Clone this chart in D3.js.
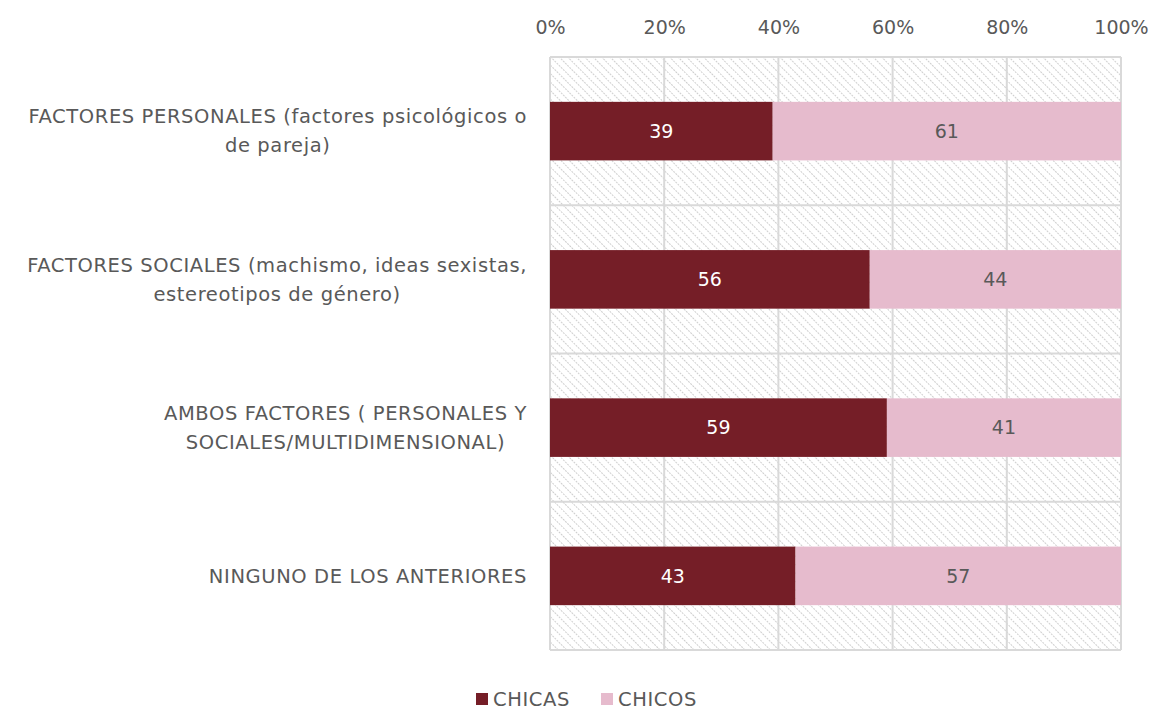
<!DOCTYPE html>
<html>
<head>
<meta charset="utf-8">
<script src="https://cdn.jsdelivr.net/npm/d3@7"></script>
<style>
  body { margin: 0; background: #fff; }
  text { font-family: "DejaVu Sans", sans-serif; fill: #595959; }
</style>
</head>
<body>
<div id="chart"></div>
<script>
// data
var categories = [
  ["FACTORES PERSONALES (factores psicológicos o", "de pareja)"],
  ["FACTORES SOCIALES (machismo, ideas sexistas,", "estereotipos de género)"],
  ["AMBOS FACTORES ( PERSONALES Y", "SOCIALES/MULTIDIMENSIONAL)"],
  ["NINGUNO DE LOS ANTERIORES"]
];
var chicas = [39, 56, 59, 43];
var chicos = [61, 44, 41, 57];
var xTicks = [0, 20, 40, 60, 80, 100];
var seriesNames = ["CHICAS", "CHICOS"];
var colors = ["#751E27", "#E6BBCD"];

var svgWidth = 1156;
var svgHeight = 710;
var margin = { top: 57, right: 35, bottom: 60, left: 550 };
var chartWidth = 571;
var chartHeight = 593;
var labelSize = 19.5;
var tickSize = 19;

var svg = d3.select("#chart").append("svg")
  .attr("width", svgWidth)
  .attr("height", svgHeight);

// hatch pattern for the plot background
var defs = svg.append("defs");
var pat = defs.append("pattern")
  .attr("id", "hatch")
  .attr("patternUnits", "userSpaceOnUse")
  .attr("width", 6)
  .attr("height", 6)
  .attr("patternTransform", "rotate(-45)");
pat.append("line")
  .attr("x1", 0).attr("y1", 0).attr("x2", 0).attr("y2", 6)
  .attr("stroke", "#cfcfcf")
  .attr("stroke-width", 2)
  .attr("stroke-dasharray", "2,1");

var chartGroup = svg.append("g")
  .attr("transform", `translate(${margin.left}, ${margin.top})`);

var xScale = d3.scaleLinear().domain([0, 100]).range([0, chartWidth]);
var yScale = d3.scaleBand()
  .domain(d3.range(categories.length))
  .range([0, chartHeight])
  .paddingInner(0.605)
  .paddingOuter(0.3025);
var bandScale = d3.scaleBand()
  .domain(d3.range(categories.length))
  .range([0, chartHeight]);

chartGroup.append("rect")
  .attr("width", chartWidth)
  .attr("height", chartHeight)
  .attr("fill", "url(#hatch)");

// vertical gridlines
chartGroup.append("g")
  .selectAll("line")
  .data(xTicks)
  .enter()
  .append("line")
  .attr("x1", d => xScale(d)).attr("x2", d => xScale(d))
  .attr("y1", 0).attr("y2", chartHeight)
  .attr("stroke", "#d9d9d9")
  .attr("stroke-width", 2);

// category boundaries
chartGroup.append("g")
  .selectAll("line")
  .data(d3.range(categories.length + 1))
  .enter()
  .append("line")
  .attr("x1", 0).attr("x2", chartWidth)
  .attr("y1", d => d < categories.length ? bandScale(d) : chartHeight)
  .attr("y2", d => d < categories.length ? bandScale(d) : chartHeight)
  .attr("stroke", "#d9d9d9")
  .attr("stroke-width", 2);

// top axis
var xAxis = d3.axisTop(xScale)
  .tickValues(xTicks)
  .tickFormat(d => d + "%")
  .tickSize(0)
  .tickPadding(23);
var axisG = chartGroup.append("g").call(xAxis);
axisG.select(".domain").remove();
axisG.selectAll("text")
  .style("font-family", "'DejaVu Sans', sans-serif")
  .style("font-size", tickSize + "px")
  .attr("fill", "#595959");

// stacked bars
var stacked = categories.map((c, i) => [
  { s: 0, x0: 0, x1: chicas[i], v: chicas[i], i: i },
  { s: 1, x0: chicas[i], x1: chicas[i] + chicos[i], v: chicos[i], i: i }
]).flat();

chartGroup.append("g")
  .selectAll("rect")
  .data(stacked)
  .enter()
  .append("rect")
  .attr("x", d => xScale(d.x0))
  .attr("width", d => xScale(d.x1) - xScale(d.x0))
  .attr("y", d => yScale(d.i))
  .attr("height", yScale.bandwidth())
  .attr("fill", d => colors[d.s]);

chartGroup.append("g")
  .selectAll("text")
  .data(stacked)
  .enter()
  .append("text")
  .attr("x", d => xScale((d.x0 + d.x1) / 2))
  .attr("y", d => yScale(d.i) + yScale.bandwidth() / 2)
  .attr("dy", "0.35em")
  .attr("text-anchor", "middle")
  .attr("font-size", tickSize)
  .style("fill", d => d.s === 0 ? "#ffffff" : "#595959")
  .text(d => d.v);

// category labels, centred block ending at x=527
var labelRight = 527 - margin.left;
var lineH = 29;
categories.forEach(function(lines, i) {
  var g = chartGroup.append("g");
  var cy = yScale(i) + yScale.bandwidth() / 2;
  var texts = lines.map(function(l, j) {
    return g.append("text")
      .attr("font-size", labelSize)
      .attr("letter-spacing", "0.6px")
      .attr("y", cy + (j - (lines.length - 1) / 2) * lineH)
      .attr("dy", "0.35em")
      .attr("text-anchor", "middle")
      .text(l);
  });
  var maxW = d3.max(texts, t => t.node().getComputedTextLength());
  texts.forEach(t => t.attr("x", labelRight - maxW / 2));
});

// legend
var legend = svg.append("g").attr("transform", "translate(0, 699)");
var lx = [476, 601];
seriesNames.forEach(function(n, i) {
  legend.append("rect")
    .attr("x", lx[i]).attr("y", -6)
    .attr("width", 12).attr("height", 12)
    .attr("fill", colors[i]);
  legend.append("text")
    .attr("x", lx[i] + 17)
    .attr("y", 0)
    .attr("dy", "0.35em")
    .attr("font-size", labelSize)
    .attr("letter-spacing", "0.6px")
    .text(n);
});
</script>
</body>
</html>
